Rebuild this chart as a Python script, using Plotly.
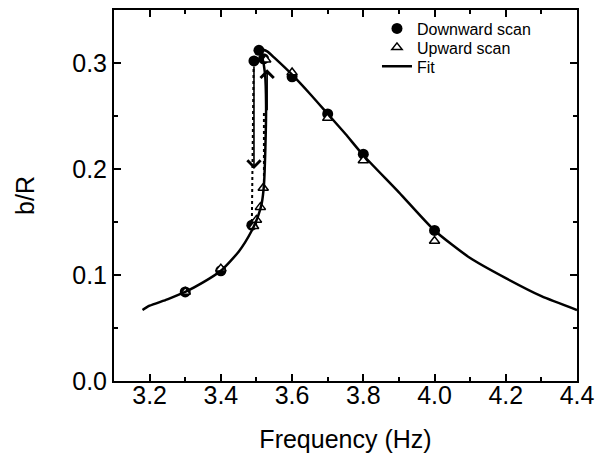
import plotly.graph_objects as go

# Downward scan (filled circles)
down_f = [3.30, 3.40, 3.487, 3.493, 3.507, 3.520, 3.60, 3.70, 3.80, 4.00]
down_b = [0.084, 0.104, 0.147, 0.302, 0.312, 0.304, 0.287, 0.252, 0.214, 0.142]

# Upward scan (open triangles)
up_f = [3.30, 3.40, 3.492, 3.500, 3.511, 3.519, 3.526, 3.60, 3.70, 3.80, 4.00]
up_b = [0.084, 0.106, 0.146, 0.152, 0.164, 0.182, 0.303, 0.291, 0.248, 0.208, 0.132]

# Fit curve
fit_f = [3.18, 3.20, 3.25, 3.30, 3.35, 3.40, 3.45, 3.487, 3.505, 3.515, 3.521, 3.525,
         3.527, 3.524, 3.516, 3.509, 3.53, 3.55, 3.60, 3.65, 3.70, 3.75, 3.80, 3.90,
         4.00, 4.10, 4.20, 4.30, 4.40]
fit_b = [0.067, 0.071, 0.077, 0.084, 0.093, 0.104, 0.122, 0.142, 0.156, 0.168, 0.185, 0.22,
         0.26, 0.29, 0.306, 0.313, 0.311, 0.305, 0.289, 0.271, 0.252, 0.233, 0.213, 0.178,
         0.142, 0.116, 0.097, 0.080, 0.067]

# Jump paths (dotted)
jump_down_f = [3.492, 3.487]
jump_down_b = [0.300, 0.147]
jump_up_f = [3.521, 3.521]
jump_up_b = [0.182, 0.254]

# Arrows: (tail, tip)
arrow_down = dict(f=3.493, b_from=0.298, b_to=0.200)
arrow_up = dict(f=3.530, b_from=0.254, b_to=0.294)

x_ticks = [3.2, 3.4, 3.6, 3.8, 4.0, 4.2, 4.4]
y_ticks = [0.0, 0.1, 0.2, 0.3]

FONT = "Liberation Sans, Arial, Helvetica, sans-serif"

fig = go.Figure()

fig.add_trace(go.Scatter(x=jump_down_f, y=jump_down_b, mode="lines",
                         line=dict(color="black", width=2, dash="dot"),
                         showlegend=False, hoverinfo="skip"))
fig.add_trace(go.Scatter(x=jump_up_f, y=jump_up_b, mode="lines",
                         line=dict(color="black", width=2, dash="dot"),
                         showlegend=False, hoverinfo="skip"))

fig.add_trace(go.Scatter(x=down_f, y=down_b, mode="markers", name="Downward scan",
                         legend="legend",
                         marker=dict(symbol="circle", size=11, color="black")))
fig.add_trace(go.Scatter(x=up_f, y=up_b, mode="markers", name="Upward scan",
                         legend="legend2",
                         marker=dict(symbol="triangle-up", size=9, color="white",
                                     line=dict(color="black", width=1.5))))
fig.add_trace(go.Scatter(x=fit_f, y=fit_b, mode="lines", name="Fit",
                         legend="legend3",
                         line=dict(color="black", width=2.5, shape="spline", smoothing=0.6)))

for a in (arrow_down, arrow_up):
    fig.add_annotation(x=a["f"], y=a["b_to"], ax=a["f"], ay=a["b_from"],
                       xref="x", yref="y", axref="x", ayref="y",
                       showarrow=True, arrowhead=4, arrowsize=1.6, arrowwidth=1.6,
                       arrowcolor="black", text="")

axis_common = dict(showline=True, linecolor="black", linewidth=2, mirror="ticks",
                   ticks="inside", ticklen=7, tickwidth=2, tickcolor="black",
                   showgrid=False, zeroline=False,
                   tickfont=dict(family=FONT, size=25, color="black"))

fig.update_xaxes(range=[3.1, 4.4], tickvals=x_ticks,
                 ticktext=[f"{v:.1f}" for v in x_ticks],
                 ticklabelstandoff=-9,
                 minor=dict(ticks="inside", ticklen=4, tickwidth=2, tickcolor="black",
                            dtick=0.1, tick0=3.1),
                 title=dict(text="Frequency (Hz)", font=dict(family=FONT, size=25, color="black"),
                            standoff=22),
                 **axis_common)
fig.update_yaxes(range=[0, 0.35], tickvals=y_ticks,
                 ticktext=[f"{v:.1f}" for v in y_ticks],
                 minor=dict(ticks="inside", ticklen=4, tickwidth=2, tickcolor="black",
                            dtick=0.05, tick0=0),
                 title=dict(text="b/R", font=dict(family=FONT, size=25, color="black"),
                            standoff=30),
                 **axis_common)

leg_common = dict(x=0.568, xanchor="left", yanchor="middle",
                  bgcolor="rgba(0,0,0,0)", font=dict(family=FONT, size=16, color="black"),
                  itemwidth=30)

fig.update_layout(
    width=595, height=453,
    margin=dict(l=106, r=26, t=0, b=80),
    paper_bgcolor="white", plot_bgcolor="white",
    font=dict(family=FONT, color="black"),
    legend=dict(y=0.950, **leg_common),
    legend2=dict(y=0.899, **leg_common),
    legend3=dict(y=0.848, **leg_common),
)

fig.write_html("out.html")
